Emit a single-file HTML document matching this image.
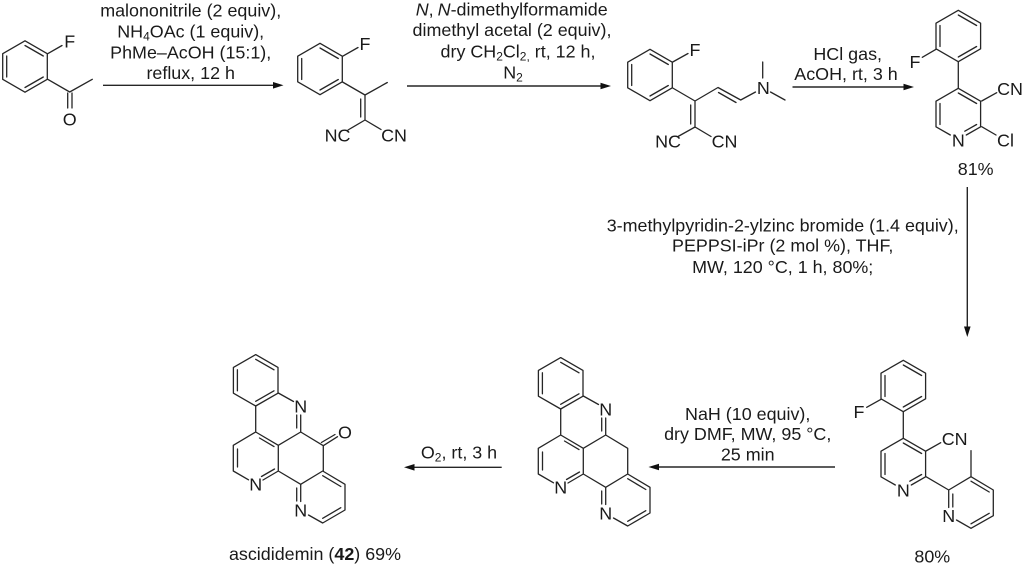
<!DOCTYPE html>
<html><head><meta charset="utf-8">
<style>
html,body{margin:0;padding:0;background:#fff}
svg{display:block}
text{font-family:"Liberation Sans",sans-serif;font-size:17.9px;fill:#1a1a1a;text-anchor:middle}
.b{fill:none;stroke:#262626;stroke-width:1.3;stroke-linecap:round;stroke-linejoin:round}
.a{fill:none;stroke:#262626;stroke-width:1.4}
.h{fill:#111;stroke:none}
</style></head><body>
<svg width="1024" height="567" viewBox="0 0 1024 567" xmlns="http://www.w3.org/2000/svg">
<defs>
<g id="ringA"><path class="b" d="M0,-25.7L22.3,-12.85V12.85L0,25.7L-22.3,12.85V-12.85Z"/><path class="b" d="M0,-21L18.3,-10.5M18.3,10.5L0,21M-18.3,-10.5V10.5"/></g>
<g id="pyr"><path class="b" d="M8,21L22.3,12.85V-12.85L0,-25.7L-22.3,-12.85V12.85L-8,21"/><path class="b" d="M0,-21L18.3,-10.5M18.3,10.5L6.5,17.2M-18.3,-10.5V10.5"/></g>
<g id="core">
<use href="#ringA" x="560.7" y="383.3"/>
<path class="b" d="M583.3,396L598.5,404.5M605.7,418V435L583.3,448.3L560.7,435V409.3M601.7,418V431M560.7,435L538.3,448.3V474L553.5,482.8M568,483L583.3,474V448.3M583.3,474L605.7,487.3V504.5M601.7,491V504M564.5,441L579,449.6M542.5,452V470M566.5,479.5L579.5,472"/>
<path class="b" d="M605.7,487.3L627.7,474L650,487.3V513L627.7,526L613.5,518M627.7,478.7L645.8,489.5M627.7,521.3L645.8,510.7"/>
<text x="605.7" y="415.6">N</text><text x="560.7" y="493.6">N</text><text x="605.7" y="519.3">N</text>
</g>
</defs>

<!-- molecule 1 -->
<use href="#ringA" x="25" y="66.5"/>
<path class="b" d="M47.7,53.7L62,45.5M47.7,79.3L69.7,92L92.3,79.3M67.7,93V108M72,93V108"/>
<text x="69.7" y="47.5">F</text><text x="69.7" y="125.5">O</text>

<!-- molecule 2 -->
<use href="#ringA" x="320" y="69"/>
<path class="b" d="M342.5,56.3L358,47.5M342.5,82L365,95L387.3,82.5M365,95V120M360.7,99V117M365,120L348,130M365,120L381,129.5"/>
<text x="365" y="50">F</text><text x="337.5" y="141.7">NC</text><text x="394" y="141.7">CN</text>

<!-- molecule 3 -->
<use href="#ringA" x="650" y="75"/>
<path class="b" d="M672.7,62L688,53.5M672.7,88L695,101L718,87.5L740.7,100L755.5,92M718.5,92.5L736,102.5M695,101V127M690.7,105V124M695,127L678,136.5M695,127L711,136.5M762.7,62V78M770.5,92L785,100"/>
<text x="695" y="56">F</text><text x="763.3" y="93.8">N</text><text x="668" y="147.3">NC</text><text x="724.5" y="147.3">CN</text>

<!-- molecule 4 -->
<use href="#ringA" x="958.3" y="36"/>
<use href="#pyr" x="958.3" y="114"/>
<path class="b" d="M936,49.3L922.3,57.3M958.3,62V88.3M981.7,101L996.7,92.7M981.7,126.7L996,135"/>
<text x="915" y="68">F</text><text x="958.3" y="146.5">N</text><text x="1010" y="95">CN</text><text x="1005.5" y="146.5">Cl</text>
<text x="975.7" y="175">81%</text>

<!-- molecule 5 -->
<use href="#ringA" x="903.3" y="386"/>
<use href="#pyr" x="903.3" y="464"/>
<path class="b" d="M881,399.3L866.7,407.3M903.3,412V438.3M926,451L940.7,442.7M926,476.7L948.7,490L971,476.7L993.3,490V515.7L971,528.3L956.5,520M948.7,490V507.5M952.8,494V507M971,481.2L989.2,492M971,523.8L989.2,513.3M971,476.7V450.7"/>
<text x="859" y="418">F</text><text x="903.3" y="496.5">N</text><text x="954.7" y="444.8">CN</text><text x="948.7" y="522">N</text>
<text x="932.3" y="562.5">80%</text>

<!-- molecule 6 -->
<use href="#core"/>
<path class="b" d="M605.7,435L627.7,448.3V474"/>

<!-- molecule 7 -->
<g transform="translate(-305,-3)"><use href="#core"/></g>
<path class="b" d="M300.7,432L323.3,445.7M323.3,445.7V471M323.3,445.7L337.5,436.7M321.4,442.5L335,434.5"/>
<text x="345" y="438.6">O</text>

<!-- arrows -->
<path class="a" d="M103,85.3H278"/><path class="h" d="M283.5,85.3L273,82V88.6Z"/>
<path class="a" d="M407,86H605"/><path class="h" d="M611,86L600.5,82.7V89.3Z"/>
<path class="a" d="M792.5,87H908"/><path class="h" d="M914,87L903.5,83.7V90.3Z"/>
<path class="a" d="M967.3,187V331"/><path class="h" d="M967.3,337L964,326.5H970.6Z"/>
<path class="a" d="M835,467H654"/><path class="h" d="M648.5,467L659,463.7V470.3Z"/>
<path class="a" d="M501.7,467.3H409"/><path class="h" d="M404,467.3L414.5,464V470.6Z"/>

<!-- reagents -->
<text x="190.7" y="16.7">malononitrile (2 equiv),</text>
<text x="190.7" y="37.3">NH<tspan font-size="12" dy="3">4</tspan><tspan dy="-3">OAc (1 equiv),</tspan></text>
<text x="190.7" y="58.3">PhMe–AcOH (15:1),</text>
<text x="190.7" y="79">reflux, 12 h</text>

<text x="511.7" y="15.3"><tspan font-style="italic">N</tspan>,<tspan font-style="italic" dx="4">N</tspan>-dimethylformamide</text>
<text x="512" y="36">dimethyl acetal (2 equiv),</text>
<text x="518" y="57.3">dry CH<tspan font-size="12" dy="3">2</tspan><tspan dy="-3">Cl</tspan><tspan font-size="12" dy="3">2,</tspan><tspan dy="-3"> rt, 12 h,</tspan></text>
<text x="513" y="78.3">N<tspan font-size="12" dy="3">2</tspan></text>

<text x="847.7" y="60">HCl gas,</text>
<text x="846" y="80">AcOH, rt, 3 h</text>

<text x="782.7" y="231.7">3-methylpyridin-2-ylzinc bromide (1.4 equiv),</text>
<text x="782.7" y="251.7">PEPPSI-iPr (2 mol %), THF,</text>
<text x="782.7" y="273">MW, 120 °C, 1 h, 80%;</text>

<text x="747.7" y="420">NaH (10 equiv),</text>
<text x="747.7" y="440">dry DMF, MW, 95 °C,</text>
<text x="747.7" y="460.7">25 min</text>

<text x="459" y="458.3">O<tspan font-size="12" dy="3">2</tspan><tspan dy="-3">, rt, 3 h</tspan></text>
<text x="315" y="560">ascididemin (<tspan font-weight="bold">42</tspan>) 69%</text>
</svg>
</body></html>
